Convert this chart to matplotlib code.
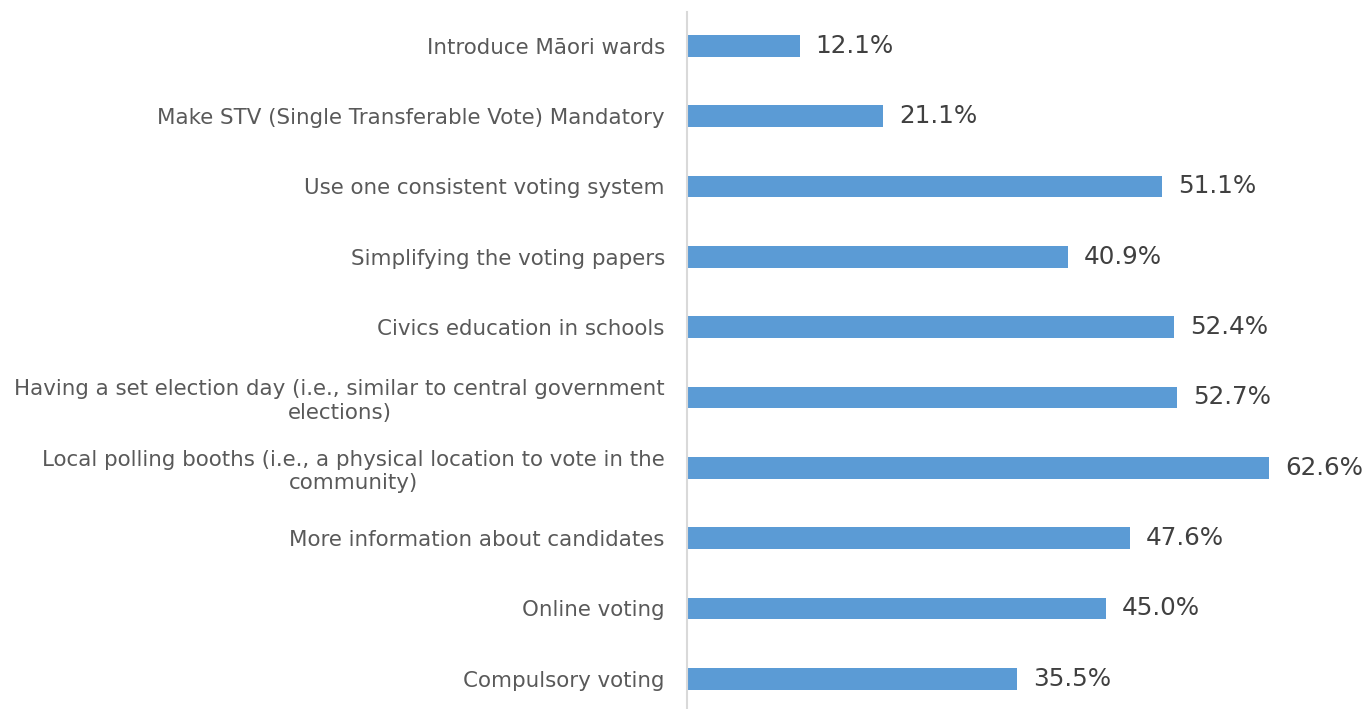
import matplotlib.pyplot as plt

categories = [
    "Introduce Māori wards",
    "Make STV (Single Transferable Vote) Mandatory",
    "Use one consistent voting system",
    "Simplifying the voting papers",
    "Civics education in schools",
    "Having a set election day (i.e., similar to central government\nelections)",
    "Local polling booths (i.e., a physical location to vote in the\ncommunity)",
    "More information about candidates",
    "Online voting",
    "Compulsory voting",
]
values = [12.1, 21.1, 51.1, 40.9, 52.4, 52.7, 62.6, 47.6, 45.0, 35.5]

fig = plt.figure(figsize=(13.68, 7.09), dpi=100)
ax = fig.add_axes([687 / 1368, 0, 1 - 687 / 1368, 697 / 709])

pos = list(range(len(categories)))
bars = ax.barh(pos, values, height=0.31, color="#5b9bd5")

# percentage labels to the right of each bar
for b, v in zip(bars, values):
    ax.annotate(f"{v:.1f}%", (b.get_width(), b.get_y() + b.get_height() / 2),
                xytext=(16, 0), textcoords="offset pixels",
                va="center", ha="left", fontsize=17.7, color="#404040")

ax.set_xlim(0, 73.2)
ax.set_ylim(9.43, -0.48)
ax.set_yticks(pos)
ax.set_yticklabels(categories, fontsize=15.4, color="#595959")
for lbl in ax.get_yticklabels():
    lbl.set_multialignment("center")
    lbl.set_linespacing(1.2)
ax.tick_params(axis="y", length=0, pad=16)
ax.set_xticks([])

for side in ["top", "right", "bottom"]:
    ax.spines[side].set_visible(False)
ax.spines["left"].set_color("#d9d9d9")
ax.spines["left"].set_linewidth(1.5)

fig.savefig("out.png", dpi=100)
